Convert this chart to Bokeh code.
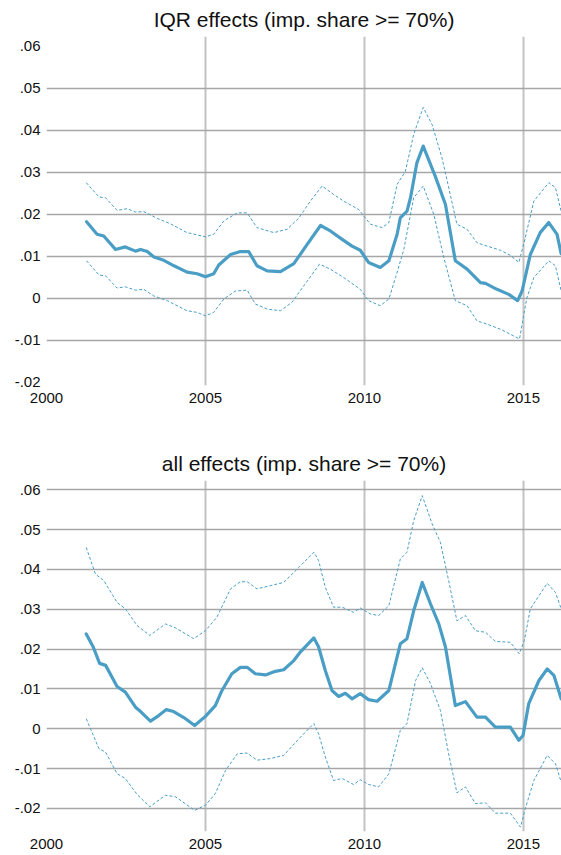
from bokeh.plotting import figure
from bokeh.layouts import column
from bokeh.models import FixedTicker, Range1d
from bokeh.embed import file_html
from bokeh.resources import INLINE

# ---------------- data ----------------
x_ticks = [2000, 2005, 2010, 2015]
y_ticks = [-0.02, -0.01, 0.0, 0.01, 0.02, 0.03, 0.04, 0.05, 0.06]
y_tick_labels = ["-.02", "-.01", "0", ".01", ".02", ".03", ".04", ".05", ".06"]

titles = ["IQR effects (imp. share >= 70%)", "all effects (imp. share >= 70%)"]

# IQR effects: point estimate
iqr_mean_x = [2001.26, 2001.59, 2001.80, 2002.17, 2002.48, 2002.80, 2002.96, 2003.17, 2003.38, 2003.69,
              2004.01, 2004.42, 2004.74, 2005.00, 2005.26, 2005.42, 2005.79, 2006.10, 2006.36, 2006.62,
              2006.94, 2007.36, 2007.78, 2008.20, 2008.62, 2008.93, 2009.30, 2009.61, 2009.87, 2010.13,
              2010.50, 2010.77, 2011.03, 2011.13, 2011.34, 2011.45, 2011.65, 2011.85, 2012.23, 2012.55,
              2012.86, 2013.23, 2013.65, 2013.81, 2014.17, 2014.54, 2014.82, 2014.96, 2015.22, 2015.53,
              2015.80, 2016.06, 2016.19]
iqr_mean_y = [0.0182, 0.0152, 0.0148, 0.0116, 0.0122, 0.0112, 0.0116, 0.0111, 0.0098, 0.0090,
              0.0077, 0.0062, 0.0058, 0.0051, 0.0058, 0.0079, 0.0104, 0.0111, 0.0111, 0.0077,
              0.0065, 0.0063, 0.0082, 0.0128, 0.0173, 0.0160, 0.0140, 0.0124, 0.0114, 0.0085,
              0.0073, 0.0089, 0.0152, 0.0191, 0.0207, 0.0239, 0.0322, 0.0362, 0.0290, 0.0223,
              0.0089, 0.0069, 0.0037, 0.0035, 0.0021, 0.0009, -0.0006, 0.0017, 0.0104, 0.0156,
              0.0180, 0.0152, 0.0106]
# IQR effects: upper band
iqr_up_x = [2001.25, 2001.65, 2001.86, 2002.22, 2002.54, 2002.80, 2003.06, 2003.48, 2003.90, 2004.42,
            2005.00, 2005.26, 2005.58, 2006.00, 2006.31, 2006.62, 2007.15, 2007.57, 2007.94, 2008.30,
            2008.67, 2009.03, 2009.35, 2009.82, 2010.19, 2010.56, 2010.77, 2011.03, 2011.29, 2011.55,
            2011.85, 2012.13, 2012.44, 2012.70, 2012.91, 2013.23, 2013.54, 2013.86, 2014.28, 2014.59,
            2014.86, 2015.06, 2015.33, 2015.80, 2016.01, 2016.19]
iqr_up_y = [0.0275, 0.0241, 0.0239, 0.0209, 0.0213, 0.0205, 0.0206, 0.0190, 0.0177, 0.0156,
            0.0146, 0.0152, 0.0184, 0.0203, 0.0203, 0.0168, 0.0156, 0.0164, 0.0191, 0.0231,
            0.0267, 0.0247, 0.0231, 0.0211, 0.0176, 0.0168, 0.0180, 0.0271, 0.0302, 0.0390,
            0.0454, 0.0413, 0.0334, 0.0247, 0.0176, 0.0164, 0.0132, 0.0124, 0.0114, 0.0102,
            0.0085, 0.0144, 0.0231, 0.0275, 0.0263, 0.0207]
# IQR effects: lower band
iqr_lo_x = [2001.26, 2001.65, 2001.86, 2002.22, 2002.48, 2002.80, 2003.06, 2003.38, 2003.80, 2004.42,
            2004.74, 2005.00, 2005.26, 2005.58, 2005.94, 2006.31, 2006.57, 2006.94, 2007.36, 2007.72,
            2008.09, 2008.59, 2008.93, 2009.35, 2009.87, 2010.13, 2010.50, 2010.77, 2010.98, 2011.24,
            2011.55, 2011.85, 2012.18, 2012.50, 2012.86, 2013.23, 2013.54, 2013.86, 2014.28, 2014.59,
            2014.88, 2015.11, 2015.33, 2015.80, 2016.01, 2016.19]
iqr_lo_y = [0.0089, 0.0055, 0.0053, 0.0024, 0.0027, 0.0019, 0.0021, 0.0005, -0.0006, -0.0030,
            -0.0034, -0.0042, -0.0034, -0.0002, 0.0017, 0.0019, -0.0014, -0.0026, -0.0030, -0.0010,
            0.0029, 0.0081, 0.0069, 0.0049, 0.0021, -0.0006, -0.0018, -0.0002, 0.0049, 0.0116,
            0.0239, 0.0267, 0.0200, 0.0096, -0.0006, -0.0018, -0.0054, -0.0062, -0.0074, -0.0086,
            -0.0097, 0.0001, 0.0049, 0.0089, 0.0077, 0.0017]

# all effects: point estimate
all_mean_x = [2001.25, 2001.47, 2001.67, 2001.86, 2002.22, 2002.48, 2002.80, 2002.96, 2003.27, 2003.53,
              2003.77, 2004.00, 2004.32, 2004.66, 2005.00, 2005.31, 2005.52, 2005.83, 2006.10, 2006.31,
              2006.57, 2006.89, 2007.20, 2007.46, 2007.78, 2007.99, 2008.41, 2008.56, 2008.77, 2008.98,
              2009.19, 2009.40, 2009.61, 2009.87, 2010.13, 2010.40, 2010.77, 2011.13, 2011.34, 2011.55,
              2011.82, 2012.08, 2012.34, 2012.55, 2012.86, 2013.18, 2013.54, 2013.81, 2014.12, 2014.59,
              2014.86, 2014.99, 2015.17, 2015.49, 2015.75, 2015.96, 2016.19]
all_mean_y = [0.0238, 0.0205, 0.0164, 0.0159, 0.0106, 0.0092, 0.0054, 0.0043, 0.0019, 0.0033,
              0.0048, 0.0043, 0.0028, 0.0008, 0.0031, 0.0058, 0.0096, 0.0138, 0.0154, 0.0154,
              0.0138, 0.0135, 0.0144, 0.0148, 0.0171, 0.0193, 0.0228, 0.0205, 0.0146, 0.0096,
              0.0081, 0.0089, 0.0075, 0.0088, 0.0073, 0.0069, 0.0096, 0.0213, 0.0226, 0.0296,
              0.0367, 0.0313, 0.0263, 0.0205, 0.0058, 0.0068, 0.0029, 0.0029, 0.0004, 0.0004,
              -0.0029, -0.0017, 0.0063, 0.0121, 0.0150, 0.0134, 0.0075]
# all effects: upper band
all_up_x = [2001.25, 2001.54, 2001.80, 2002.22, 2002.48, 2002.85, 2003.25, 2003.74, 2004.06, 2004.63,
            2005.00, 2005.36, 2005.79, 2006.10, 2006.31, 2006.62, 2007.04, 2007.46, 2007.94, 2008.41,
            2008.56, 2008.77, 2009.03, 2009.30, 2009.66, 2009.87, 2010.19, 2010.45, 2010.77, 2011.13,
            2011.34, 2011.55, 2011.82, 2012.13, 2012.39, 2012.65, 2012.91, 2013.18, 2013.49, 2013.81,
            2014.12, 2014.59, 2014.87, 2015.03, 2015.22, 2015.75, 2016.01, 2016.19]
all_up_y = [0.0455, 0.0388, 0.0372, 0.0317, 0.0301, 0.0259, 0.0234, 0.0263, 0.0253, 0.0226,
            0.0246, 0.0280, 0.0351, 0.0369, 0.0369, 0.0351, 0.0359, 0.0367, 0.0405, 0.0443,
            0.0422, 0.0355, 0.0305, 0.0305, 0.0292, 0.0303, 0.0288, 0.0284, 0.0309, 0.0426,
            0.0443, 0.0522, 0.0585, 0.0514, 0.0468, 0.0372, 0.0271, 0.0284, 0.0246, 0.0242,
            0.0219, 0.0217, 0.0188, 0.0221, 0.0301, 0.0365, 0.0342, 0.0301]
# all effects: lower band
all_lo_x = [2001.25, 2001.65, 2001.86, 2002.22, 2002.48, 2002.85, 2003.25, 2003.74, 2004.06, 2004.66,
            2005.00, 2005.31, 2005.63, 2006.00, 2006.31, 2006.62, 2007.04, 2007.46, 2007.99, 2008.41,
            2008.56, 2008.77, 2009.03, 2009.30, 2009.66, 2009.87, 2010.13, 2010.45, 2010.77, 2011.13,
            2011.34, 2011.61, 2011.82, 2012.08, 2012.39, 2012.65, 2012.91, 2013.18, 2013.49, 2013.81,
            2014.12, 2014.59, 2014.91, 2015.06, 2015.33, 2015.75, 2016.01, 2016.19]
all_lo_y = [0.0025, -0.0050, -0.0059, -0.0113, -0.0125, -0.0165, -0.0196, -0.0167, -0.0171, -0.0205,
            -0.0192, -0.0163, -0.0105, -0.0063, -0.0061, -0.0079, -0.0075, -0.0067, -0.0021, 0.0013,
            -0.0013, -0.0071, -0.0130, -0.0125, -0.0140, -0.0128, -0.0140, -0.0146, -0.0113, -0.0004,
            0.0013, 0.0121, 0.0153, 0.0113, 0.0046, -0.0063, -0.0161, -0.0146, -0.0188, -0.0186,
            -0.0212, -0.0212, -0.0247, -0.0201, -0.0130, -0.0067, -0.0088, -0.0134]

# ---------------- styling ----------------
FONT = "Liberation Sans"
LINE_COLOR = "#4a9ec6"


def make_panel(title, mx, my, ux, uy, lx, ly, ymin, grid_y, height, top, bottom):
    p = figure(width=561, height=height, output_backend="svg", toolbar_location=None,
               x_range=Range1d(2000, 2016.2), y_range=Range1d(ymin, 0.0623),
               min_border_left=46, min_border_right=0, min_border_top=top,
               min_border_bottom=bottom)
    p.outline_line_color = None
    p.background_fill_color = "white"
    p.border_fill_color = "white"

    p.title.text = title
    p.title.align = "center"
    p.title.text_font = FONT
    p.title.text_font_size = "21px"
    p.title.text_font_style = "normal"
    p.title.text_color = "#111111"
    p.title.standoff = 11

    p.xaxis.ticker = FixedTicker(ticks=x_ticks)
    p.yaxis.ticker = FixedTicker(ticks=y_ticks)
    p.yaxis.major_label_overrides = {t: s for t, s in zip(y_ticks, y_tick_labels)}
    for ax in (p.xaxis, p.yaxis):
        ax.axis_line_color = None
        ax.major_tick_line_color = None
        ax.minor_tick_line_color = None
        ax.major_tick_out = 0
        ax.major_tick_in = 0
        ax.major_label_text_font = FONT
        ax.major_label_text_font_size = "15px"
        ax.major_label_text_color = "#111111"
    p.xaxis.major_label_standoff = 7
    p.yaxis.major_label_standoff = 6

    p.xgrid.ticker = FixedTicker(ticks=[2005, 2010, 2015])
    p.xgrid.grid_line_color = "#c2c2c2"
    p.xgrid.grid_line_width = 2
    p.ygrid.ticker = FixedTicker(ticks=grid_y)
    p.ygrid.grid_line_color = "#a6a6a6"
    p.ygrid.grid_line_width = 1.5

    p.line(ux, uy, line_color=LINE_COLOR, line_width=1, line_dash="3 2")
    p.line(lx, ly, line_color=LINE_COLOR, line_width=1, line_dash="3 2")
    p.line(mx, my, line_color=LINE_COLOR, line_width=3.2, line_join="round", line_cap="round")
    return p


p1 = make_panel(titles[0], iqr_mean_x, iqr_mean_y, iqr_up_x, iqr_up_y, iqr_lo_x, iqr_lo_y,
                -0.0208, [-0.01, 0.0, 0.01, 0.02, 0.03, 0.04, 0.05], 418, 35, 33)
p2 = make_panel(titles[1], all_mean_x, all_mean_y, all_up_x, all_up_y, all_lo_x, all_lo_y,
                -0.0258, y_ticks, 437, 62, 24)

layout = column(p1, p2)
open("out.html", "w").write(file_html(layout, INLINE))
